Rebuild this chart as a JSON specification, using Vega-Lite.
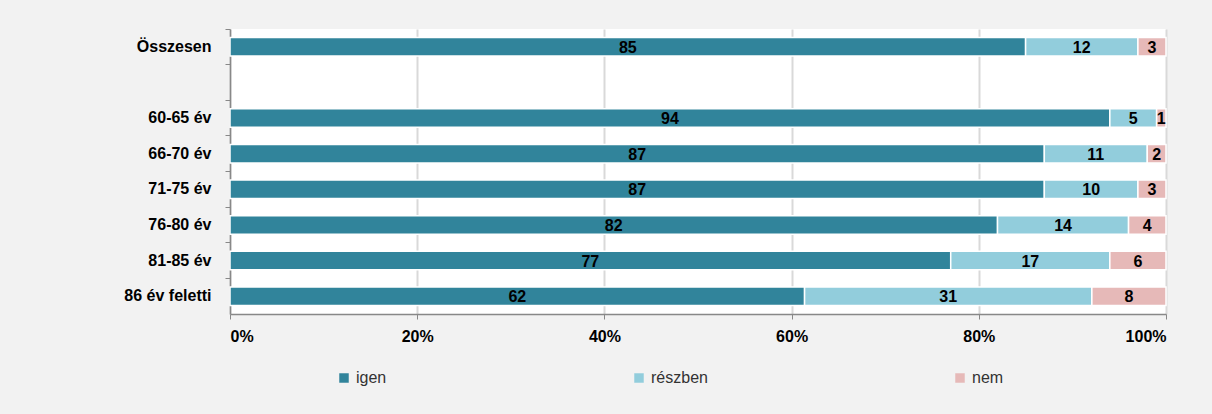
{
  "$schema": "https://vega.github.io/schema/vega-lite/v6.json",
  "autosize": {"type": "none"},
  "width": 936,
  "height": 285,
  "padding": {"left": 230, "top": 29, "right": 46, "bottom": 100},
  "background": "#F2F2F2",
  "config": {
    "font": "Liberation Sans",
    "view": {"stroke": null, "fill": "#FFFFFF"}
  },
  "data": {
    "values": [
      {"group": "Összesen", "answer": "igen", "rank": 1, "value": 85},
      {"group": "Összesen", "answer": "részben", "rank": 2, "value": 12},
      {"group": "Összesen", "answer": "nem", "rank": 3, "value": 3},
      {"group": "60-65 év", "answer": "igen", "rank": 1, "value": 94},
      {"group": "60-65 év", "answer": "részben", "rank": 2, "value": 5},
      {"group": "60-65 év", "answer": "nem", "rank": 3, "value": 1},
      {"group": "66-70 év", "answer": "igen", "rank": 1, "value": 87},
      {"group": "66-70 év", "answer": "részben", "rank": 2, "value": 11},
      {"group": "66-70 év", "answer": "nem", "rank": 3, "value": 2},
      {"group": "71-75 év", "answer": "igen", "rank": 1, "value": 87},
      {"group": "71-75 év", "answer": "részben", "rank": 2, "value": 10},
      {"group": "71-75 év", "answer": "nem", "rank": 3, "value": 3},
      {"group": "76-80 év", "answer": "igen", "rank": 1, "value": 82},
      {"group": "76-80 év", "answer": "részben", "rank": 2, "value": 14},
      {"group": "76-80 év", "answer": "nem", "rank": 3, "value": 4},
      {"group": "81-85 év", "answer": "igen", "rank": 1, "value": 77},
      {"group": "81-85 év", "answer": "részben", "rank": 2, "value": 17},
      {"group": "81-85 év", "answer": "nem", "rank": 3, "value": 6},
      {"group": "86 év feletti", "answer": "igen", "rank": 1, "value": 62},
      {"group": "86 év feletti", "answer": "részben", "rank": 2, "value": 31},
      {"group": "86 év feletti", "answer": "nem", "rank": 3, "value": 8}
    ]
  },
  "encoding": {
    "y": {
      "field": "group",
      "type": "nominal",
      "scale": {
        "domain": ["Összesen", " ", "60-65 év", "66-70 év", "71-75 év", "76-80 év", "81-85 év", "86 év feletti"],
        "paddingInner": 0.48,
        "paddingOuter": 0.24
      },
      "axis": {
        "title": null,
        "bandPosition": -0.46,
        "labelFontSize": 16,
        "labelFontWeight": "bold",
        "labelColor": "#000000",
        "labelPadding": 14,
        "tickSize": 5,
        "tickColor": "#888888",
        "domainColor": "#888888",
        "domainWidth": 1.5,
        "grid": false
      }
    }
  },
  "layer": [
    {
      "mark": {"type": "bar", "stroke": "#FFFFFF", "strokeWidth": 1.5},
      "encoding": {
        "x": {
          "field": "value",
          "type": "quantitative",
          "stack": "normalize",
          "scale": {"domain": [0, 1]},
          "axis": {
            "title": null,
            "format": "%",
            "values": [0, 0.2, 0.4, 0.6, 0.8, 1],
            "labelFontSize": 16,
            "labelFontWeight": "bold",
            "labelColor": "#000000",
            "labelPadding": 9,
            "tickSize": 5,
            "tickColor": "#888888",
            "domainColor": "#888888",
            "domainWidth": 1.5,
            "grid": true,
            "gridColor": "#D9D9D9",
            "gridWidth": 2
          }
        },
        "color": {
          "field": "answer",
          "type": "nominal",
          "sort": ["igen", "részben", "nem"],
          "scale": {
            "domain": ["igen", "részben", "nem"],
            "range": ["#31849B", "#92CDDC", "#E6B9B8"]
          },
          "legend": {
            "title": null,
            "orient": "none",
            "direction": "horizontal",
            "legendX": 106,
            "legendY": 341,
            "symbolType": "square",
            "symbolSize": 90,
            "symbolStrokeWidth": 0,
            "labelFontSize": 16,
            "labelColor": "#333333",
            "labelOffset": 4,
            "columnPadding": 244
          }
        },
        "order": {"field": "rank", "type": "quantitative", "sort": "ascending"}
      }
    },
    {
      "mark": {"type": "text", "fontSize": 16, "fontWeight": "bold", "color": "#000000", "baseline": "middle", "align": "center", "dy": 1},
      "encoding": {
        "x": {"field": "value", "type": "quantitative", "stack": "normalize", "bandPosition": 0.5},
        "text": {"field": "value", "type": "quantitative"},
        "detail": {"field": "answer", "type": "nominal"},
        "order": {"field": "rank", "type": "quantitative", "sort": "ascending"}
      }
    }
  ]
}
